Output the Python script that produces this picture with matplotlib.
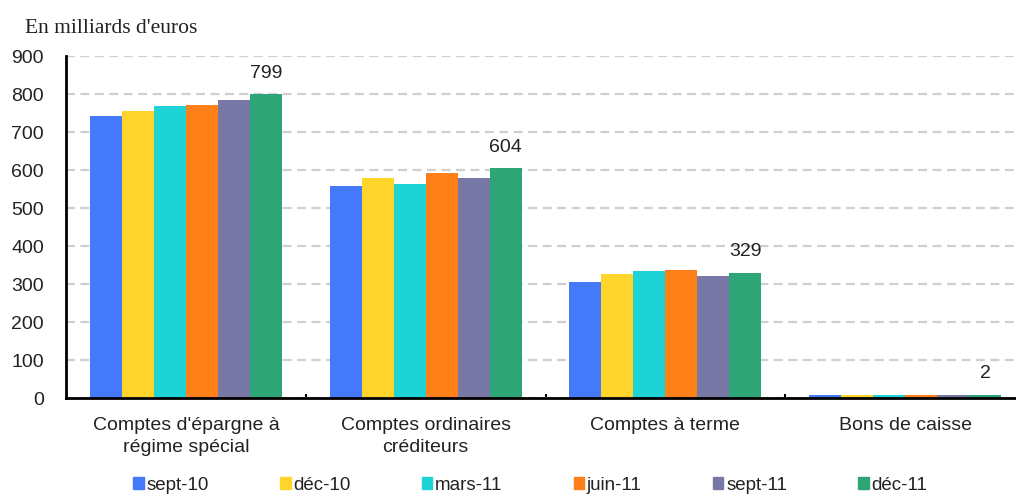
import numpy as np
import matplotlib.pyplot as plt
from matplotlib.patches import Rectangle

# données (en milliards d'euros)
categories = ["Comptes d'épargne à\nrégime spécial", "Comptes ordinaires\ncréditeurs",
              "Comptes à terme", "Bons de caisse"]
periodes = ["sept-10", "déc-10", "mars-11", "juin-11", "sept-11", "déc-11"]
sept_10 = [741, 557, 305, 9]
dec_10 = [755, 579, 327, 9]
mars_11 = [769, 563, 335, 9]
juin_11 = [770, 593, 336, 9]
sept_11 = [784, 579, 320, 9]
dec_11 = [799, 604, 329, 9]
etiquettes_dec11 = ["799", "604", "329", "2"]
series = [sept_10, dec_10, mars_11, juin_11, sept_11, dec_11]
couleurs = ["#4479FA", "#FFD42B", "#1ED3D5", "#FF7F18", "#7878A6", "#2EA577"]

plt.rcParams['font.family'] = ['Liberation Sans', 'DejaVu Sans']

fig = plt.figure(figsize=(10.16, 4.94), dpi=100)
ax = fig.add_axes([0.065, 0.1943, 0.935, 0.6923])

x = np.arange(len(categories))
largeur = 0.8 / len(series)
barres = []
for i, (vals, c) in enumerate(zip(series, couleurs)):
    b = ax.bar(x - 0.4 + largeur * (i + 0.5), vals, largeur, color=c, linewidth=0, zorder=2)
    barres.append(b)

# étiquette de valeur sur la dernière période
ax.bar_label(barres[-1], labels=etiquettes_dec11, padding=9, fontsize=14, color="#222222")

ax.set_xlim(-0.5, 3.4625)
ax.set_ylim(0, 900)
ax.set_yticks(range(0, 901, 100))
ax.yaxis.grid(True, color="#cfcfcf", linestyle=(0, (4, 2.5)), linewidth=1.6, zorder=0)
ax.set_axisbelow(True)

ax.set_xticks(x)
ax.set_xticklabels(categories, fontsize=14, linespacing=1.37, color="#222222")
ax.set_xticks([0.5, 1.5, 2.5], minor=True)
ax.tick_params(axis="x", which="major", length=0, pad=14)
ax.tick_params(axis="x", which="minor", direction="in", length=3, width=1.5, color="black")
ax.tick_params(axis="y", length=0, pad=16, labelsize=14, labelcolor="#222222")

for s in ["top", "right"]:
    ax.spines[s].set_visible(False)
ax.spines["left"].set_linewidth(2)
ax.spines["bottom"].set_linewidth(2)
ax.spines["bottom"].set_zorder(3)

fig.text(0.0246, 0.943, "En milliards d'euros", fontsize=15.5, family="Liberation Serif",
         va="center", ha="left", color="#222222")

poignees = [Rectangle((0, 0), 1, 1, color=c) for c in couleurs]
fig.legend(poignees, periodes, loc="center", bbox_to_anchor=(0.522, 0.018), ncol=6,
           frameon=False, fontsize=13.5, handlelength=0.55, handleheight=0.55,
           handletextpad=0.15, columnspacing=3.8, labelcolor="#222222")

plt.savefig("out.png", dpi=100)
plt.close()
